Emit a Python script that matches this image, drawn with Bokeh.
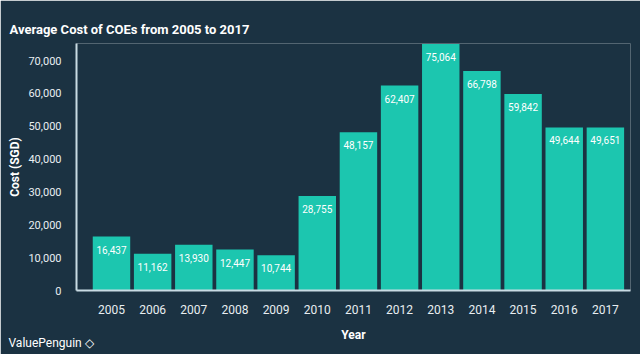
from bokeh.plotting import figure
from bokeh.models import ColumnDataSource, Range1d, FixedTicker, NumeralTickFormatter, Title
from bokeh.core.properties import value
from bokeh.embed import file_html
from bokeh.resources import INLINE

years = [2005, 2006, 2007, 2008, 2009, 2010, 2011, 2012, 2013, 2014, 2015, 2016, 2017]
costs = [16437, 11162, 13930, 12447, 10744, 28755, 48157, 62407, 75064, 66798, 59842, 49644, 49651]
labels = [f"{c:,}" for c in costs]
y_ticks = [0, 10000, 20000, 30000, 40000, 50000, 60000, 70000]

BG = "#1b3242"
BAR = "#1cc6af"
AXIS = "#c9dbe3"
FONT = "Roboto"

src = ColumnDataSource(dict(x=years, top=costs, label=labels))

p = figure(width=640, height=354, output_backend="svg", toolbar_location=None,
           x_range=Range1d(2004.15, 2017.61), y_range=Range1d(0, 75200),
           min_border_left=76, min_border_right=10, min_border_top=43, min_border_bottom=64,
           background_fill_color=BG, border_fill_color=BG, outline_line_color=None)

p.vbar(x="x", top="top", width=0.91, source=src, color=BAR, line_color=None)
p.text(x="x", y="top", text="label", source=src, text_align="center", text_baseline="middle",
       y_offset=13, text_color="white", text_font_size="10px", text_font=value(FONT))

p.grid.visible = False

p.xaxis.ticker = FixedTicker(ticks=years)
p.xaxis.major_label_overrides = {y: str(y) for y in years}
p.yaxis.ticker = FixedTicker(ticks=y_ticks)
p.yaxis.formatter = NumeralTickFormatter(format="0,0")

for ax in (p.xaxis[0], p.yaxis[0]):
    ax.axis_line_color = AXIS
    ax.axis_line_width = 2
    ax.major_tick_line_color = None
    ax.minor_tick_line_color = None
    ax.major_label_text_color = "#e8eef1"
    ax.major_label_text_font = FONT
    ax.major_label_text_font_size = "12px"
    ax.axis_label_text_color = "white"
    ax.axis_label_text_font = FONT
    ax.axis_label_text_font_style = "bold"
    ax.axis_label_text_font_size = "12px"

p.yaxis.major_label_text_font_size = "11px"
p.xaxis.axis_label = "Year"
p.xaxis.major_label_standoff = 8
p.xaxis.axis_label_standoff = 11
p.yaxis.axis_label = "Cost (SGD)"
p.yaxis.major_label_standoff = 9
p.yaxis.axis_label_standoff = 3

p.title.text = "Average Cost of COEs from 2005 to 2017"
p.title.text_color = "white"
p.title.text_font = FONT
p.title.text_font_size = "13px"
p.title.text_font_style = "bold"
p.title.align = "left"
p.title.offset = -67
p.title.standoff = 14

footer = Title(text="ValuePenguin ◇", align="left", offset=-68, standoff=-17,
               vertical_align="top",
               text_color="white", text_font=FONT, text_font_size="12px",
               text_font_style="normal")
p.add_layout(footer, "below")

open("out.html", "w").write(file_html(p, INLINE))
